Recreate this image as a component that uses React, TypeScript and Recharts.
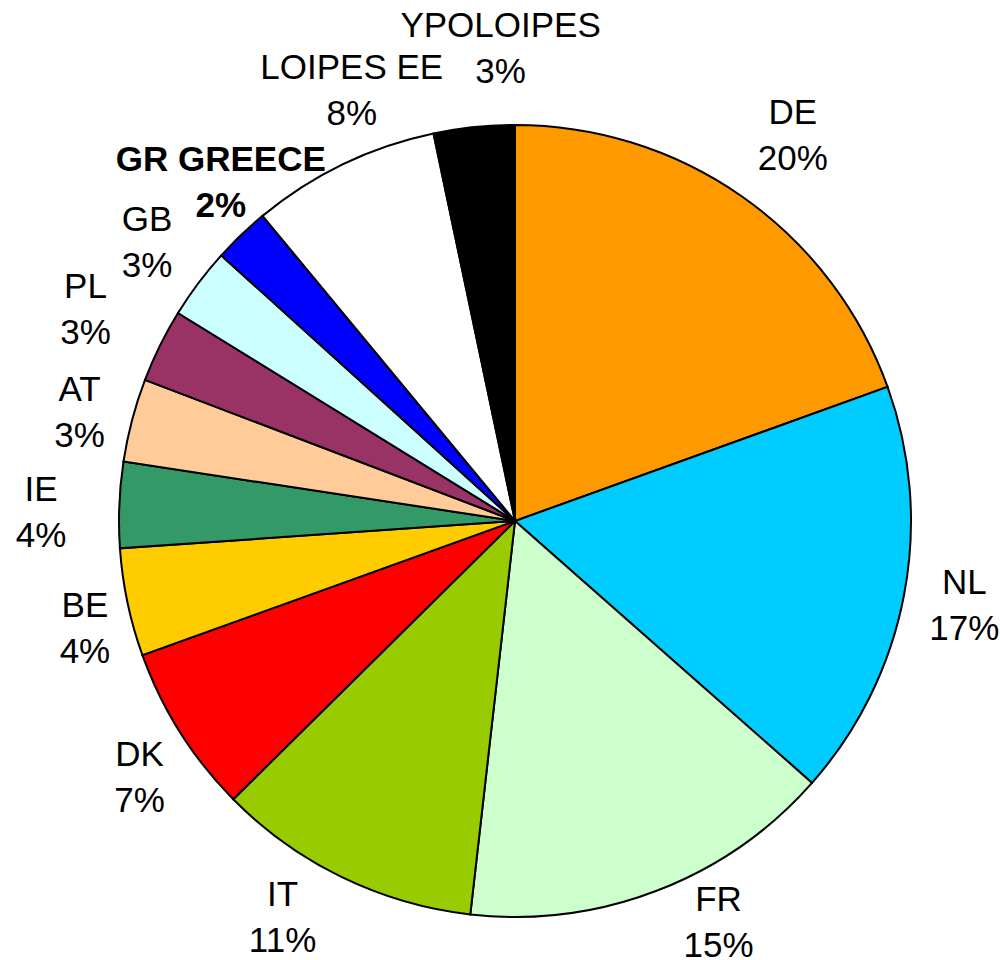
import { Cell, Pie, PieChart } from "recharts";

const countries = ["DE", "NL", "FR", "IT", "DK", "BE", "IE", "AT", "PL", "GB", "GR GREECE", "LOIPES EE", "YPOLOIPES"];
const shares = [19.5, 17.0, 15.3, 10.8, 6.9, 4.4, 3.5, 3.4, 3.0, 2.9, 2.3, 7.7, 3.3];
const shareLabels = ["20%", "17%", "15%", "11%", "7%", "4%", "4%", "3%", "3%", "3%", "2%", "8%", "3%"];
const colors = [
  "#FF9900", "#00CCFF", "#CCFFCC", "#99CC00", "#FF0000", "#FFCC00", "#339966",
  "#FFCC99", "#993366", "#CCFFFF", "#0000FF", "#FFFFFF", "#000000",
];

// label placement (hand-dragged labels in the original): clockwise turn in degrees
// from the slice middle, and distance of the label centre from the pie centre
const labelTurn = [0.6, -0.3, -5.9, 4.5, -2, -2, -1.2, -0.6, 0, 0.3, 2.8, 5, 4.2];
const labelDist = [476, 457, 449, 459, 454, 443, 474, 449, 479, 462, 449, 461, 474];

const data = countries.map((name, i) => ({ name, value: shares[i], label: shareLabels[i] }));

const RAD = Math.PI / 180;

function renderLabel(props: any) {
  const { cx, cy, midAngle, index } = props;
  const a = (midAngle - labelTurn[index]) * RAD;
  const r = labelDist[index];
  const x = cx + r * Math.cos(a);
  const y = cy - r * Math.sin(a);
  const name = countries[index];
  const bold = name === "GR GREECE";
  return (
    <text
      x={x}
      y={y}
      textAnchor="middle"
      fontFamily="'Liberation Sans', Arial, sans-serif"
      fontSize={35}
      fontWeight={bold ? "bold" : "normal"}
      fill="#000"
    >
      <tspan x={x} y={y - 10.5}>{name}</tspan>
      <tspan x={x} y={y + 35.5}>{shareLabels[index]}</tspan>
    </text>
  );
}

export default function App() {
  return (
    <div style={{ position: "absolute", left: 0, top: 0, width: 1000, height: 960, background: "#fff" }}>
      <PieChart width={1000} height={960} margin={{ top: 0, right: 0, bottom: 0, left: 0 }}>
        <Pie
          data={data}
          dataKey="value"
          nameKey="name"
          cx={515}
          cy={521}
          outerRadius={396}
          startAngle={90}
          endAngle={-270}
          stroke="#000"
          strokeWidth={2}
          label={renderLabel}
          labelLine={false}
          isAnimationActive={false}
        >
          {data.map((d, i) => (
            <Cell key={d.name} fill={colors[i]} stroke="#000" strokeWidth={2} />
          ))}
        </Pie>
      </PieChart>
    </div>
  );
}
